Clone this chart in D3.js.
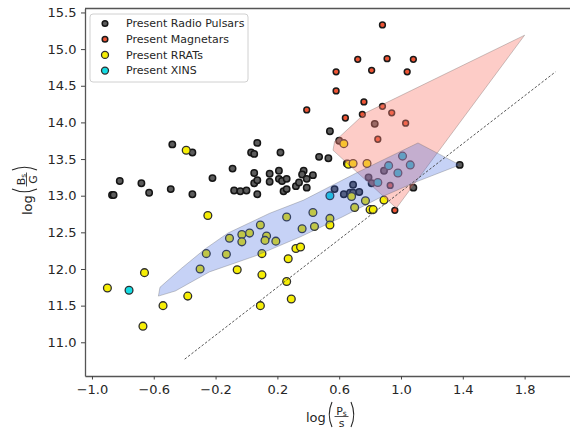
<!DOCTYPE html>
<html>
<head>
<meta charset="utf-8">
<script src="https://cdn.jsdelivr.net/npm/d3@7"></script>
<style>
  body { margin: 0; background: #fff; }
  svg { font-family: "DejaVu Sans", sans-serif; }
</style>
</head>
<body>
<div id="chart"></div>
<script>

// [log P, log B]
const pulsars = [
    [-0.87, 13.01], [-0.86, 13.01], [-0.82, 13.20], [-0.68, 13.17], [-0.63, 13.04],
    [-0.48, 13.70], [-0.49, 13.09], [-0.35, 13.59], [-0.35, 13.02], [-0.22, 13.24],
    [-0.09, 13.37], [-0.08, 13.07], [-0.04, 13.06], [0.00, 13.07], [0.03, 13.59],
    [0.05, 13.57], [0.05, 13.31], [0.05, 13.17], [0.07, 13.21], [0.07, 13.72],
    [0.07, 13.02], [0.15, 13.30], [0.15, 13.19], [0.21, 13.34], [0.22, 13.59],
    [0.21, 13.23], [0.23, 13.20], [0.26, 13.23], [0.24, 13.06], [0.26, 13.09],
    [0.32, 13.13], [0.34, 13.18], [0.37, 13.34], [0.36, 13.29], [0.39, 13.23],
    [0.39, 13.11], [0.43, 13.28], [0.47, 13.53], [0.53, 13.51], [0.54, 13.88],
    [0.60, 13.75], [0.65, 13.44], [0.83, 13.98], [0.57, 13.09], [0.69, 13.15],
    [0.63, 13.02], [0.67, 13.04], [0.69, 13.04], [0.73, 13.05], [0.79, 13.25],
    [0.81, 13.17], [0.89, 13.34], [1.08, 13.11], [1.38, 13.42]
];

const magnetars = [
    [0.88, 15.33], [0.72, 14.86], [0.91, 14.87], [1.08, 14.86], [0.58, 14.69],
    [0.81, 14.71], [1.04, 14.69], [0.58, 14.43], [0.39, 14.17], [0.76, 14.28],
    [0.88, 14.22], [0.94, 14.13], [0.64, 14.06], [0.75, 14.11], [1.03, 13.99],
    [0.85, 13.77], [0.96, 12.80], [0.93, 13.14]
];

const rrats = [
    [-0.90, 11.74], [-0.66, 11.95], [-0.67, 11.22], [-0.54, 11.50], [-0.38, 11.63],
    [-0.25, 12.73], [-0.30, 12.00], [-0.26, 12.21], [-0.13, 12.20], [-0.11, 12.42],
    [-0.06, 11.99], [-0.03, 12.47], [-0.03, 12.37], [0.02, 12.49], [0.09, 12.60],
    [0.10, 12.21], [0.10, 11.92], [0.09, 11.50], [0.13, 12.45], [0.12, 12.39],
    [0.19, 12.38], [0.26, 12.71], [0.27, 12.14], [0.26, 11.83], [0.29, 11.59],
    [0.32, 12.28], [0.35, 12.30], [0.36, 12.55], [0.43, 12.77], [0.44, 12.58],
    [0.54, 12.69], [0.54, 12.60], [0.68, 12.99], [0.70, 12.84], [0.77, 12.93],
    [0.80, 12.81], [0.82, 12.81], [0.89, 12.94], [0.63, 13.71], [0.66, 13.43],
    [0.69, 13.44], [0.78, 13.44], [-0.39, 13.62]
];

const xins = [
    [-0.76, 11.71], [0.54, 13.00], [0.92, 13.41], [1.01, 13.54],
    [1.06, 13.42], [0.98, 13.31], [0.85, 13.18]
];

// shaded regions
const magnetarRegion = [[1.80, 15.19], [0.77, 14.13], [0.57, 13.74], [0.56, 13.62], [0.97, 12.83]];
const rratRegion = [
    [-0.57, 11.63], [-0.56, 11.75], [-0.42, 12.01], [-0.27, 12.27], [-0.12, 12.49],
    [0.15, 12.76], [0.37, 12.94], [0.72, 13.32], [1.11, 13.72], [1.38, 13.42],
    [1.10, 13.19], [0.86, 12.97], [0.62, 12.71], [0.35, 12.44], [0.06, 12.18],
    [-0.24, 11.96], [-0.46, 11.70]
];

const deathLine = [[-0.40, 10.77], [2.00, 14.69]];

const xTicks = [-1.0, -0.6, -0.2, 0.2, 0.6, 1.0, 1.4, 1.8];
const yTicks = [11.0, 11.5, 12.0, 12.5, 13.0, 13.5, 14.0, 14.5, 15.0, 15.5];

const legendLabels = ["Present Radio Pulsars", "Present Magnetars", "Present RRATs", "Present XINS"];

const width = 570, height = 433;
const plotLeft = 85, plotRight = 577, plotTop = 8.5, plotBottom = 376;

let svg = d3.select("#chart")
            .append("svg")
                .attr("width", width)
                .attr("height", height);

let x = d3.scaleLinear().domain([-1.045, 2.139]).range([plotLeft, plotRight]);
let y = d3.scaleLinear().domain([10.54, 15.554]).range([plotBottom, plotTop]);

let styles = [
    {data: pulsars,   fill: "#5c5c5c", stroke: "#151515", r: 3.2, sw: 1.5, lr: 2.8},
    {data: magnetars, fill: "#ee5535", stroke: "#1a1a1a", r: 2.9, sw: 1.5, lr: 2.8},
    {data: rrats,     fill: "#f6ee05", stroke: "#2e2e2e", r: 3.9, sw: 1.3, lr: 3.5},
    {data: xins,      fill: "#14dbe3", stroke: "#2e2e2e", r: 3.9, sw: 1.3, lr: 3.5}
];

//points first, shaded regions drawn over them
styles.forEach(s => {
    svg.append("g").selectAll("circle").data(s.data).enter()
        .append("circle")
            .attr("cx", d => x(d[0]))
            .attr("cy", d => y(d[1]))
            .attr("r", s.r)
            .attr("fill", s.fill)
            .attr("stroke", s.stroke)
            .attr("stroke-width", s.sw);
});

let line = d3.line().x(d => x(d[0])).y(d => y(d[1]));

svg.append("path")
    .datum(magnetarRegion)
    .attr("d", d => line(d) + "Z")
    .attr("fill", "salmon")
    .attr("fill-opacity", 0.4)
    .attr("stroke", "#555")
    .attr("stroke-opacity", 0.3);

svg.append("path")
    .datum(rratRegion)
    .attr("d", d => line(d) + "Z")
    .attr("fill", "royalblue")
    .attr("fill-opacity", 0.3)
    .attr("stroke", "#555")
    .attr("stroke-opacity", 0.3);

svg.append("path")
    .datum(deathLine)
    .attr("d", line)
    .attr("fill", "none")
    .attr("stroke", "#444")
    .attr("stroke-width", 0.9)
    .attr("stroke-dasharray", "2.5,1.8");

// axes
let xAxis = svg.append("g")
    .attr("transform", "translate(0," + plotBottom + ")")
    .call(d3.axisBottom(x).tickValues(xTicks).tickFormat(d3.format(".1f"))
            .tickSize(3.5).tickPadding(5.5).tickSizeOuter(0));

let yAxis = svg.append("g")
    .attr("transform", "translate(" + plotLeft + ",0)")
    .call(d3.axisLeft(y).tickValues(yTicks).tickFormat(d3.format(".1f"))
            .tickSize(4).tickPadding(4.5).tickSizeOuter(0));

[xAxis, yAxis].forEach(a => {
    a.selectAll("text").attr("font-size", 13).attr("fill", "#262626").attr("font-family", "DejaVu Sans");
    a.selectAll("line").attr("stroke", "#444").attr("stroke-width", 1);
    a.select(".domain").attr("stroke", "#555").attr("stroke-width", 1.3);
});

svg.append("line")
    .attr("x1", plotLeft).attr("x2", plotRight)
    .attr("y1", plotTop).attr("y2", plotTop)
    .attr("stroke", "#555").attr("stroke-width", 1.3);

// log( num_sub / den ) label
function mathLabel(g, num, sub, den) {
    g.append("text").attr("x", 0).attr("y", 4).attr("font-size", 13).attr("fill", "#262626").text("log");
    g.append("path").attr("d", "M26,-16 Q20.5,-3.5 26,9").attr("fill", "none").attr("stroke", "#262626").attr("stroke-width", 1.1);
    g.append("line").attr("x1", 28.5).attr("x2", 42.5).attr("y1", -1.5).attr("y2", -1.5).attr("stroke", "#262626").attr("stroke-width", 0.8);
    let n = g.append("text").attr("x", 35.5).attr("y", -3.5).attr("text-anchor", "middle").attr("font-size", 11).attr("fill", "#262626");
    n.append("tspan").text(num);
    n.append("tspan").attr("font-size", 7.5).attr("dy", 1.5).text(sub);
    g.append("text").attr("x", 35.5).attr("y", 9).attr("text-anchor", "middle").attr("font-size", 11).attr("fill", "#262626").text(den);
    g.append("path").attr("d", "M45,-16 Q50.5,-3.5 45,9").attr("fill", "none").attr("stroke", "#262626").attr("stroke-width", 1.1);
}

mathLabel(svg.append("g").attr("transform", "translate(306,418)"), "P", "s", "s");
mathLabel(svg.append("g").attr("transform", "translate(28,190) rotate(-90) translate(-25,0)"), "B", "s", "G");

// legend
let legend = svg.append("g").attr("transform", "translate(90,14)");
legend.append("rect")
    .attr("width", 158).attr("height", 68)
    .attr("rx", 3)
    .attr("fill", "#fff").attr("fill-opacity", 0.8)
    .attr("stroke", "#d0d0d0");

let rows = legend.selectAll(".row").data(legendLabels).enter()
    .append("g")
        .attr("transform", (d, i) => "translate(0," + (9.5 + i * 15.7) + ")");

rows.append("circle")
    .attr("cx", 15)
    .attr("r", (d, i) => styles[i].lr)
    .attr("fill", (d, i) => styles[i].fill)
    .attr("stroke", (d, i) => styles[i].stroke)
    .attr("stroke-width", (d, i) => styles[i].sw);

rows.append("text")
    .attr("x", 36)
    .attr("dy", "0.35em")
    .attr("font-size", 11)
    .attr("fill", "#262626")
    .text(d => d);

</script>
</body>
</html>
